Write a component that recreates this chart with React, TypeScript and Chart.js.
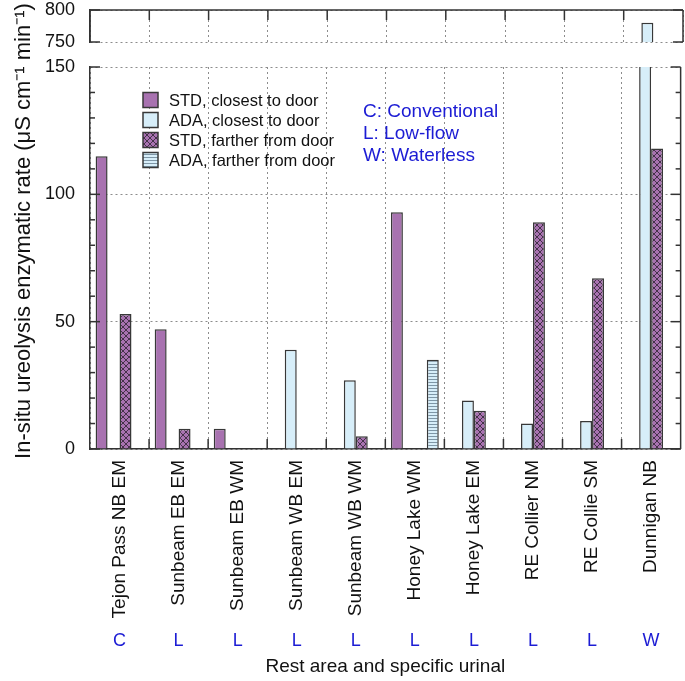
import { useEffect, useRef } from 'react';
import { Chart, registerables } from 'chart.js';

Chart.register(...registerables);

// ---- data ----
const sites = [
  'Tejon Pass NB EM',
  'Sunbeam EB EM',
  'Sunbeam EB WM',
  'Sunbeam WB EM',
  'Sunbeam WB WM',
  'Honey Lake WM',
  'Honey Lake EM',
  'RE Collier NM',
  'RE Collie SM',
  'Dunnigan NB',
];
const urinalTypes = ['C', 'L', 'L', 'L', 'L', 'L', 'L', 'L', 'L', 'W'];
const stdClosest = [115, 47, 8, null, null, 93, null, null, null, null];
const adaClosest = [null, null, null, 39, 27, null, 19, 10, 11, 780];
const stdFarther = [53, 8, null, null, 5, null, 15, 89, 67, 118];
const adaFarther = [null, null, null, null, null, 35, null, null, null, null];
const seriesLabels = [
  'STD, closest to door',
  'ADA, closest to door',
  'STD, farther from door',
  'ADA, farther from door',
];
const lowerRange = [0, 150];
const upperRange = [750, 800];
const tickStep = 50;
const minorStep = 10;
const typeNotes = ['C: Conventional', 'L: Low-flow', 'W: Waterless'];
const yTitle = 'In-situ ureolysis enzymatic rate (μS cm⁻¹ min⁻¹)';
const xTitle = 'Rest area and specific urinal';

// ---- styles ----
const FONT = 'Liberation Sans, Arial, sans-serif';
const PURPLE = '#a872b0';
const LIGHTBLUE = '#d7eef9';
const EDGE = '#383838';
const AXIS = '#333333';
const GRID = '#8c8c8c';
const BLUE = '#1c1cd4';
const TEXT = '#111111';

function crossPattern(): CanvasPattern | string {
  const c = document.createElement('canvas');
  c.width = 6;
  c.height = 6;
  const g = c.getContext('2d');
  if (!g) return PURPLE;
  g.fillStyle = PURPLE;
  g.fillRect(0, 0, 6, 6);
  g.strokeStyle = '#3a2a3e';
  g.lineWidth = 0.9;
  g.beginPath();
  g.moveTo(-1, -1);
  g.lineTo(7, 7);
  g.moveTo(7, -1);
  g.lineTo(-1, 7);
  g.stroke();
  return g.createPattern(c, 'repeat') || PURPLE;
}

function stripePattern(): CanvasPattern | string {
  const c = document.createElement('canvas');
  c.width = 4;
  c.height = 3;
  const g = c.getContext('2d');
  if (!g) return LIGHTBLUE;
  g.fillStyle = LIGHTBLUE;
  g.fillRect(0, 0, 4, 3);
  g.fillStyle = '#7e96a6';
  g.fillRect(0, 1, 4, 1);
  return g.createPattern(c, 'repeat') || LIGHTBLUE;
}

function makeDatasets() {
  const fills = [PURPLE, LIGHTBLUE, crossPattern(), stripePattern()];
  const values = [stdClosest, adaClosest, stdFarther, adaFarther];
  return values.map((v, i) => ({
    label: seriesLabels[i],
    data: v,
    backgroundColor: fills[i] as any,
    borderColor: EDGE,
    borderWidth: 1.5,
    categoryPercentage: 0.81,
    barPercentage: 1,
  }));
}

function line(ctx: CanvasRenderingContext2D, x1: number, y1: number, x2: number, y2: number) {
  ctx.beginPath();
  ctx.moveTo(x1, y1);
  ctx.lineTo(x2, y2);
  ctx.stroke();
}

function boundaries(chart: any): number[] {
  const xs = chart.scales.x;
  const out: number[] = [];
  for (let i = 1; i < sites.length; i++) {
    out.push((xs.getPixelForValue(i - 1) + xs.getPixelForValue(i)) / 2);
  }
  return out;
}

const lowerDecor = {
  id: 'lowerDecor',
  afterDraw(chart: any) {
    const { ctx, chartArea } = chart;
    const { left, right, top, bottom } = chartArea;
    const ys = chart.scales.y;
    ctx.save();
    ctx.strokeStyle = AXIS;
    ctx.lineWidth = 1.5;
    ctx.setLineDash([]);
    line(ctx, right, top, right, bottom);
    for (let v = lowerRange[0]; v <= lowerRange[1]; v += minorStep) {
      const y = ys.getPixelForValue(v);
      const len = v % tickStep === 0 ? 10 : 5;
      line(ctx, left, y, left + len, y);
      line(ctx, right - len, y, right, y);
    }
    boundaries(chart).forEach((x) => line(ctx, x, bottom, x, bottom - 10));

    // y-axis title spanning both panels
    ctx.fillStyle = TEXT;
    ctx.font = `22px ${FONT}`;
    ctx.textAlign = 'center';
    ctx.textBaseline = 'middle';
    ctx.translate(24, 231);
    ctx.rotate(-Math.PI / 2);
    ctx.fillText(yTitle, 0, 0);
    ctx.restore();

    // legend
    ctx.save();
    const lx = left + 53;
    const ly = top + 33;
    const box = 15;
    chart.data.datasets.forEach((ds: any, i: number) => {
      const cy = ly + i * 20;
      ctx.fillStyle = ds.backgroundColor;
      ctx.fillRect(lx, cy - box / 2, box, box);
      ctx.strokeStyle = EDGE;
      ctx.lineWidth = 1.5;
      ctx.strokeRect(lx, cy - box / 2, box, box);
      ctx.fillStyle = TEXT;
      ctx.font = `16.5px ${FONT}`;
      ctx.textAlign = 'left';
      ctx.textBaseline = 'middle';
      ctx.fillText(ds.label, lx + 26, cy + 1);
    });

    // urinal type notes
    ctx.fillStyle = BLUE;
    ctx.font = `19px ${FONT}`;
    typeNotes.forEach((t, i) => {
      ctx.fillText(t, left + 273, top + 45 + i * 22);
    });
    ctx.restore();
  },
};

const upperDecor = {
  id: 'upperDecor',
  afterDraw(chart: any) {
    const { ctx, chartArea } = chart;
    const { left, right, top, bottom } = chartArea;
    const ys = chart.scales.y;
    ctx.save();
    ctx.strokeStyle = AXIS;
    ctx.lineWidth = 1.5;
    ctx.setLineDash([]);
    line(ctx, left, top, right, top);
    line(ctx, right, top, right, bottom);
    line(ctx, left, top, left, bottom);
    for (let v = upperRange[0]; v <= upperRange[1]; v += tickStep) {
      const y = ys.getPixelForValue(v);
      line(ctx, left, y, left + 10, y);
      line(ctx, right - 10, y, right, y);
    }
    boundaries(chart).forEach((x) => line(ctx, x, top, x, top + 10));
    ctx.restore();
  },
};

const tickFont = { family: FONT, size: 18 };

export default function App() {
  const topRef = useRef<HTMLCanvasElement>(null);
  const botRef = useRef<HTMLCanvasElement>(null);

  useEffect(() => {
    const bottom = new Chart(botRef.current as HTMLCanvasElement, {
      type: 'bar',
      data: { labels: sites, datasets: makeDatasets() as any },
      options: {
        responsive: false,
        animation: false,
        layout: { padding: { top: 67, right: 2, left: 0, bottom: 0 } },
        plugins: { legend: { display: false }, tooltip: { enabled: false } },
        scales: {
          x: {
            type: 'category',
            position: 'bottom',
            weight: 0,
            offset: true,
            grid: { offset: true, color: GRID, drawTicks: false, lineWidth: 1 },
            border: { display: true, color: AXIS, width: 1.5, dash: [2, 3] },
            ticks: {
              autoSkip: false,
              minRotation: 90,
              maxRotation: 90,
              padding: 11,
              color: TEXT,
              font: { family: FONT, size: 19 },
            },
            afterFit: (s: any) => {
              s.height = 176;
            },
          },
          x2: {
            type: 'category',
            position: 'bottom',
            weight: 1,
            offset: true,
            labels: urinalTypes,
            grid: { display: false, drawTicks: false },
            border: { display: false },
            ticks: {
              autoSkip: false,
              minRotation: 0,
              maxRotation: 0,
              padding: 5,
              color: BLUE,
              font: tickFont,
            },
            title: {
              display: true,
              text: xTitle,
              color: TEXT,
              font: { family: FONT, size: 19 },
              padding: { top: 0, bottom: 3 },
            },
            afterFit: (s: any) => {
              s.height = 56;
            },
          } as any,
          y: {
            min: lowerRange[0],
            max: lowerRange[1],
            ticks: { stepSize: tickStep, padding: 15, color: TEXT, font: tickFont },
            grid: { color: GRID, drawTicks: false, lineWidth: 1 },
            border: { display: true, color: AXIS, width: 1.5, dash: [2, 3] },
            afterFit: (s: any) => {
              s.width = 90;
            },
          },
        },
      },
      plugins: [lowerDecor],
    });

    const top = new Chart(topRef.current as HTMLCanvasElement, {
      type: 'bar',
      data: { labels: sites, datasets: makeDatasets() as any },
      options: {
        responsive: false,
        animation: false,
        layout: { padding: { top: 10, right: 2, left: 0, bottom: 18 } },
        plugins: { legend: { display: false }, tooltip: { enabled: false } },
        scales: {
          x: {
            type: 'category',
            offset: true,
            grid: { offset: true, color: GRID, drawTicks: false, lineWidth: 1 },
            border: { display: false, dash: [2, 3] },
            ticks: { display: false },
            afterFit: (s: any) => {
              s.height = 0;
            },
          },
          y: {
            min: upperRange[0],
            max: upperRange[1],
            ticks: { stepSize: tickStep, padding: 15, color: TEXT, font: tickFont },
            grid: { color: GRID, drawTicks: false, lineWidth: 1 },
            border: { display: true, color: AXIS, width: 1.5, dash: [2, 3] },
            afterFit: (s: any) => {
              s.width = 90;
              s.paddingTop = 0;
              s.paddingBottom = 0;
            },
          },
        },
      },
      plugins: [upperDecor],
    });

    return () => {
      bottom.destroy();
      top.destroy();
    };
  }, []);

  return (
    <div style={{ position: 'absolute', left: 0, top: 0, width: 685, height: 681, background: '#fff' }}>
      <canvas ref={botRef} width={685} height={681} style={{ position: 'absolute', left: 0, top: 0 }} />
      <canvas ref={topRef} width={685} height={60} style={{ position: 'absolute', left: 0, top: 0 }} />
    </div>
  );
}
